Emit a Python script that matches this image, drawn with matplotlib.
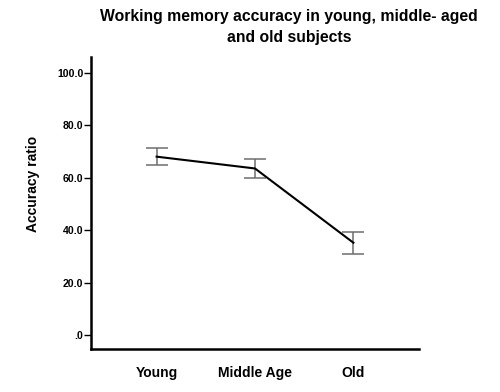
import matplotlib
matplotlib.use("Agg")
import matplotlib.pyplot as plt

# data
groups = ["Young", "Middle Age", "Old"]
means = [68.0, 63.5, 35.2]
err_lo = [64.7, 59.7, 31.0]
err_hi = [71.4, 67.1, 39.3]
yticks = [0, 20, 40, 60, 80, 100]
ytick_labels = [".0", "20.0", "40.0", "60.0", "80.0", "100.0"]

plt.rcParams['font.family'] = ['Liberation Sans', 'DejaVu Sans']
plt.rcParams['font.weight'] = 'bold'

fig = plt.figure(figsize=(5, 3.92), dpi=100)
ax = fig.add_axes([0.182, 0.1097, 0.656, 0.745])

x = list(range(len(groups)))
lower = [m - lo for m, lo in zip(means, err_lo)]
upper = [hi - m for m, hi in zip(means, err_hi)]

ax.errorbar(x, means, yerr=[lower, upper], fmt='none', ecolor='#6e6e6e',
            elinewidth=1.1, capsize=8, capthick=1.1, zorder=2)
ax.plot(x, means, color='black', linewidth=1.5, zorder=3)

ax.set_xlim(-0.667, 2.667)
ax.set_ylim(-5.3, 106.0)
ax.set_yticks(yticks)
ax.set_yticklabels(ytick_labels, fontsize=7.6, fontweight='bold')
ax.set_xticks(x)
ax.set_xticklabels(groups, fontsize=10, fontweight='bold')
ax.tick_params(axis='x', length=0, pad=12)
ax.tick_params(axis='y', length=5, width=1, direction='out', pad=0.5)

for side in ['top', 'right']:
    ax.spines[side].set_visible(False)
for side in ['left', 'bottom']:
    ax.spines[side].set_linewidth(1.8)

ax.set_ylabel("Accuracy ratio", fontsize=10, fontweight='bold')
ax.yaxis.set_label_coords(-0.155, 0.565)

fig.text(0.578, 0.978, "Working memory accuracy in young, middle- aged\nand old subjects",
         ha='center', va='top', fontsize=11.3, fontweight='bold', linespacing=1.5)

fig.savefig("out.png", dpi=100)
